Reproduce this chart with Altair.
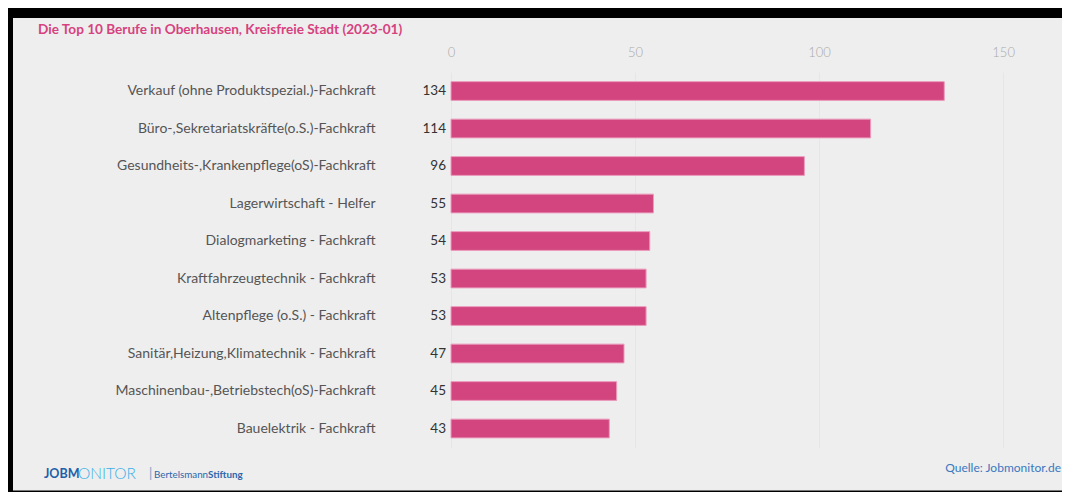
import altair as alt
import pandas as pd

categories = [
    "Verkauf (ohne Produktspezial.)-Fachkraft",
    "Büro-,Sekretariatskräfte(o.S.)-Fachkraft",
    "Gesundheits-,Krankenpflege(oS)-Fachkraft",
    "Lagerwirtschaft - Helfer",
    "Dialogmarketing - Fachkraft",
    "Kraftfahrzeugtechnik - Fachkraft",
    "Altenpflege (o.S.) - Fachkraft",
    "Sanitär,Heizung,Klimatechnik - Fachkraft",
    "Maschinenbau-,Betriebstech(oS)-Fachkraft",
    "Bauelektrik - Fachkraft",
]
values = [134, 114, 96, 55, 54, 53, 53, 47, 45, 43]
x_ticks = [0, 50, 100, 150]

title_text = "Die Top 10 Berufe in Oberhausen, Kreisfreie Stadt (2023-01)"
source_text = "Quelle: Jobmonitor.de"

df = pd.DataFrame({"Beruf": categories, "Anzahl": values})
one = pd.DataFrame({"k": [0]})

FONT = "Lato"
PINK = "#d2457e"

x_enc = alt.X(
    "Anzahl:Q",
    scale=alt.Scale(domain=[0, 163], nice=False, zero=True),
    axis=alt.Axis(
        orient="top", values=x_ticks, title=None, domain=False, ticks=False,
        tickSize=0, labelPadding=20, labelBaseline="middle", labelFontSize=13,
        labelColor="#aaaaaa", labelFontWeight=300, labelFont=FONT,
        labelFlush=False, grid=True, gridColor="#e6e6e6", gridWidth=1,
    ),
)
y_enc = alt.Y(
    "Beruf:N", sort=categories,
    scale=alt.Scale(paddingInner=0.5, paddingOuter=0.25),
    axis=alt.Axis(
        title=None, domain=False, ticks=False, tickSize=0, labelPadding=76,
        labelFontSize=14, labelColor="#555555", labelFont=FONT, labelLimit=400,
        grid=False,
    ),
)


def band(x1, x2, y1, y2):
    return alt.Chart(one).mark_rect(color="#000000").encode(
        x=alt.value(x1), x2=alt.value(x2), y=alt.value(y1), y2=alt.value(y2)
    )


top_band = band(-443, 620, -64.25, -54.25)
left_band = band(-443, -438, -64.25, 421)
bottom_band = band(-443, 620, 418.25, 420)

bars = alt.Chart(df).mark_bar(color=PINK, stroke="#eb9bbd", strokeWidth=1).encode(
    x=x_enc, y=y_enc
)

labels = alt.Chart(df).mark_text(
    align="right", baseline="middle", dx=-5, fontSize=13.5, font=FONT, color="#333333"
).encode(x=alt.datum(0), y=alt.Y("Beruf:N", sort=categories), text="Anzahl:Q")


def deco(text, x, y, size, color, weight="normal", align="left"):
    return alt.Chart(one).mark_text(
        text=text, align=align, baseline="middle", fontSize=size, font=FONT,
        color=color, fontWeight=weight,
    ).encode(x=alt.value(x), y=alt.value(y))


title = deco(title_text, -413, -42.25, 13.6, "#d6427f", "bold")
jobm = deco("JOBM", -407, 401.75, 12.5, "#1f5fa8", "bold")
onitor = deco("ONITOR", -373, 401.75, 15.5, "#3aaee8", 300)
bar_sep = deco("|", -302, 401.75, 13, "#7a9cc6")
bert = deco("Bertelsmann", -297, 402.25, 9.8, "#2a67ad")
stift = deco("Stiftung", -243, 402.25, 9.8, "#2a67ad", "bold")
source = deco(source_text, 610, 395.75, 12, "#3c78c0", align="right")

chart = alt.layer(
    bars, labels, top_band, left_band, bottom_band,
    title, jobm, onitor, bar_sep, bert, stift, source
).properties(
    width=600, height=375, background="#eeeeee",
    padding={"left": 443, "top": 64.25, "right": 11, "bottom": 44.75},
    autosize=alt.AutoSizeParams(type="none"),
).configure_view(stroke=None)

chart.save("out.html", embed_options={"renderer": "svg", "actions": False})
